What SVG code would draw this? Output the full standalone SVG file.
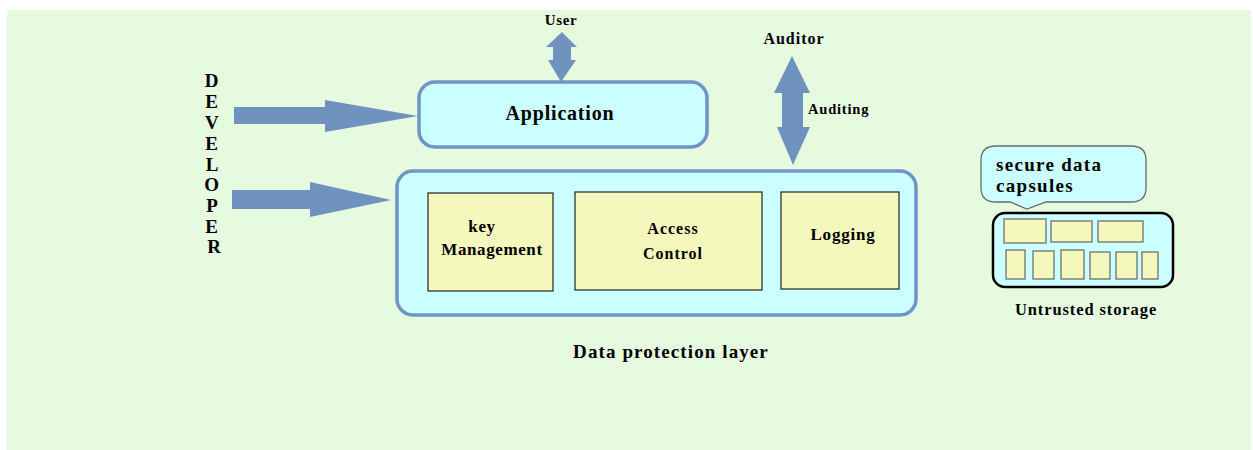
<svg xmlns="http://www.w3.org/2000/svg" width="1253" height="450" viewBox="0 0 1253 450">
<style>
.bg{fill:#e6fadf}
.arrow{fill:#7092bf}
.blue{fill:#ccffff;stroke:#7094c6;stroke-width:3.5}
.comp{fill:#f5f8bc;stroke:#222;stroke-width:1.2}
.cell{fill:#f5f8bc;stroke:#6f6f6f;stroke-width:1.3}
.t{font-family:"Liberation Serif","Times New Roman",serif;font-weight:bold;fill:#000}
</style>
<rect x="0" y="0" width="1253" height="450" fill="#ffffff"/>
<rect class="bg" x="7" y="10" width="1244" height="440"/>

<g id="developer">
<text class="t" font-size="19" text-anchor="middle">
<tspan x="214" y="87">D</tspan>
<tspan x="214" y="108">E</tspan>
<tspan x="214" y="129">V</tspan>
<tspan x="214" y="150">E</tspan>
<tspan x="214" y="171">L</tspan>
<tspan x="214" y="191">O</tspan>
<tspan x="214" y="212">P</tspan>
<tspan x="214" y="233">E</tspan>
<tspan x="214" y="253">R</tspan>
</text>
</g>

<g id="user">
<text class="t" font-size="15" x="561" y="25" text-anchor="middle" letter-spacing="0.6">User</text>
</g>

<g id="auditor">
<text class="t" font-size="16" x="794" y="44" text-anchor="middle" letter-spacing="1">Auditor</text>
</g>

<g id="application">
<rect class="blue" x="419" y="82" width="288" height="65" rx="16" ry="16"/>
<text class="t" font-size="20" x="560" y="120" text-anchor="middle" letter-spacing="0.8">Application</text>
</g>

<g id="data-protection-layer">
<rect class="blue" x="397" y="171" width="519" height="144" rx="16" ry="16"/>
<text class="t" font-size="19" x="671" y="358" text-anchor="middle" letter-spacing="1.1">Data protection layer</text>
</g>

<g id="key-management">
<rect class="comp" x="428" y="193" width="125" height="98"/>
<text class="t" font-size="17" text-anchor="middle" letter-spacing="0.6"><tspan x="482" y="232">key</tspan><tspan x="492" y="255">Management</tspan></text>
</g>

<g id="access-control">
<rect class="comp" x="575" y="192" width="187" height="98"/>
<text class="t" font-size="16" text-anchor="middle" letter-spacing="1"><tspan x="673" y="234">Access</tspan><tspan x="673" y="259">Control</tspan></text>
</g>

<g id="logging">
<rect class="comp" x="781" y="192" width="118" height="97"/>
<text class="t" font-size="17" x="843" y="240" text-anchor="middle" letter-spacing="0.8">Logging</text>
</g>

<g id="secure-data-capsules">
<path d="M996,146 H1131 Q1146,146 1146,160 V188 Q1146,202 1131,202 H1046 L1027,209 L1010,202 H996 Q981,202 981,188 V160 Q981,146 996,146 Z" fill="#ccffff" stroke="#6a6a6a" stroke-width="1.3"/>
<text class="t" font-size="19" letter-spacing="1.3"><tspan x="996" y="171">secure data</tspan><tspan x="996" y="192">capsules</tspan></text>
</g>

<g id="untrusted-storage">
<rect x="993" y="213" width="180" height="74" rx="12" ry="12" fill="#ccffff" stroke="#000" stroke-width="2.5"/>
<rect class="cell" x="1004" y="219" width="42" height="24"/>
<rect class="cell" x="1051" y="221" width="41" height="21"/>
<rect class="cell" x="1098" y="221" width="45" height="21"/>
<rect class="cell" x="1006" y="250" width="19" height="29"/>
<rect class="cell" x="1033" y="251" width="21" height="28"/>
<rect class="cell" x="1061" y="250" width="23" height="29"/>
<rect class="cell" x="1090" y="252" width="20" height="27"/>
<rect class="cell" x="1116" y="252" width="21" height="27"/>
<rect class="cell" x="1142" y="252" width="16" height="27"/>
<text class="t" font-size="16.5" x="1086" y="315" text-anchor="middle" letter-spacing="0.9">Untrusted storage</text>
</g>

<g id="connectors">
<polygon class="arrow" points="234,107 325,107 325,100 418,116 325,132 325,124 234,124"/>
<polygon class="arrow" points="232,190 310,190 310,182 391,200 310,217 310,209 232,209"/>
<polygon class="arrow" points="562,32 577,47 571,47 571,60 576,60 561,82 548,60 553,60 553,47 546,47"/>
<polygon class="arrow" points="792,56 810,93 803,93 803,127 810,127 793,165 777,127 782,127 782,93 774,93"/>
<text class="t" font-size="14.5" x="808" y="114" letter-spacing="0.8">Auditing</text>
</g>
</svg>
